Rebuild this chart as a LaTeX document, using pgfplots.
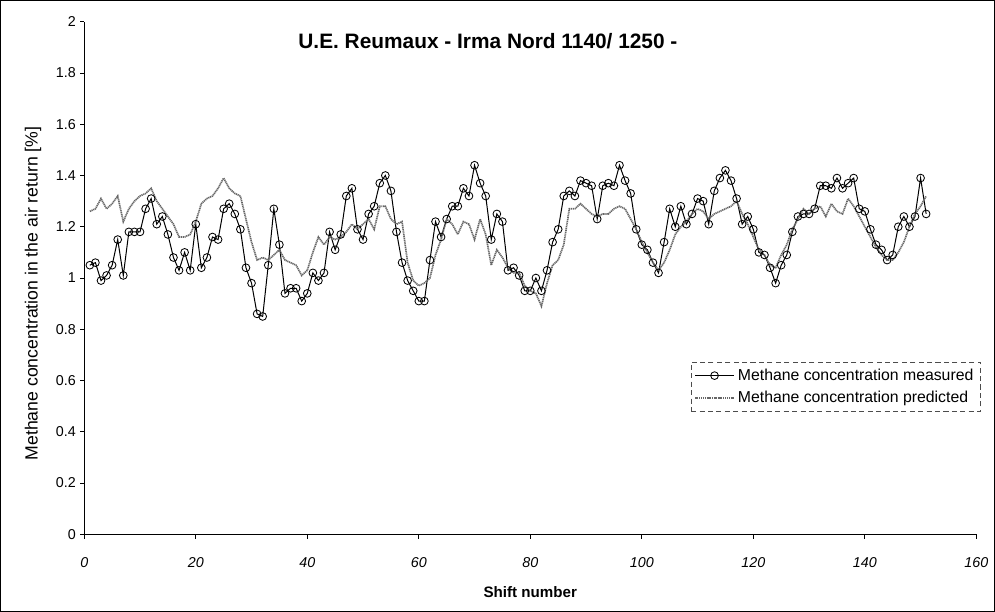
\documentclass[border=0pt]{standalone}
\usepackage{pgfplots}
\pgfplotsset{compat=1.18}
\usepackage{pgfplotstable}
\usepackage{fontspec}
\setmainfont{Liberation Sans}

\pgfplotstableread{
x m p
1 1.05 1.26
2 1.06 1.27
3 0.99 1.31
4 1.01 1.27
5 1.05 1.29
6 1.15 1.32
7 1.01 1.22
8 1.18 1.27
9 1.18 1.30
10 1.18 1.32
11 1.27 1.33
12 1.31 1.35
13 1.21 1.30
14 1.24 1.27
15 1.17 1.24
16 1.08 1.21
17 1.03 1.16
18 1.10 1.16
19 1.03 1.17
20 1.21 1.22
21 1.04 1.29
22 1.08 1.31
23 1.16 1.32
24 1.15 1.35
25 1.27 1.39
26 1.29 1.35
27 1.25 1.33
28 1.19 1.32
29 1.04 1.23
30 0.98 1.14
31 0.86 1.07
32 0.85 1.08
33 1.05 1.07
34 1.27 1.09
35 1.13 1.11
36 0.94 1.07
37 0.96 1.06
38 0.96 1.05
39 0.91 1.01
40 0.94 1.03
41 1.02 1.10
42 0.99 1.16
43 1.02 1.13
44 1.18 1.16
45 1.11 1.15
46 1.17 1.16
47 1.32 1.18
48 1.35 1.21
49 1.19 1.19
50 1.15 1.21
51 1.25 1.23
52 1.28 1.19
53 1.37 1.28
54 1.40 1.28
55 1.34 1.23
56 1.18 1.21
57 1.06 1.22
58 0.99 1.06
59 0.95 0.99
60 0.91 0.97
61 0.91 0.98
62 1.07 1.00
63 1.22 1.09
64 1.16 1.15
65 1.23 1.23
66 1.28 1.21
67 1.28 1.17
68 1.35 1.22
69 1.32 1.21
70 1.44 1.15
71 1.37 1.23
72 1.32 1.17
73 1.15 1.05
74 1.25 1.11
75 1.22 1.08
76 1.03 1.04
77 1.04 1.02
78 1.01 1.02
79 0.95 0.97
80 0.95 0.95
81 1.00 0.94
82 0.95 0.89
83 1.03 0.98
84 1.14 1.05
85 1.19 1.07
86 1.32 1.13
87 1.34 1.27
88 1.32 1.27
89 1.38 1.29
90 1.37 1.27
91 1.36 1.25
92 1.23 1.24
93 1.36 1.25
94 1.37 1.25
95 1.36 1.27
96 1.44 1.28
97 1.38 1.27
98 1.33 1.23
99 1.19 1.19
100 1.13 1.14
101 1.11 1.10
102 1.06 1.06
103 1.02 1.03
104 1.14 1.06
105 1.27 1.11
106 1.20 1.17
107 1.28 1.20
108 1.21 1.22
109 1.25 1.25
110 1.31 1.27
111 1.30 1.26
112 1.21 1.23
113 1.34 1.25
114 1.39 1.26
115 1.42 1.27
116 1.38 1.28
117 1.31 1.30
118 1.21 1.25
119 1.24 1.21
120 1.19 1.16
121 1.10 1.11
122 1.09 1.09
123 1.04 1.05
124 0.98 1.04
125 1.05 1.09
126 1.09 1.13
127 1.18 1.19
128 1.24 1.23
129 1.25 1.27
130 1.25 1.25
131 1.27 1.27
132 1.36 1.28
133 1.36 1.24
134 1.35 1.29
135 1.39 1.26
136 1.35 1.25
137 1.37 1.31
138 1.39 1.28
139 1.27 1.24
140 1.26 1.20
141 1.19 1.16
142 1.13 1.12
143 1.11 1.09
144 1.07 1.07
145 1.09 1.07
146 1.20 1.10
147 1.24 1.14
148 1.20 1.20
149 1.24 1.25
150 1.39 1.28
151 1.25 1.32
}\data

\begin{document}
\begin{tikzpicture}
\begin{axis}[
  scale only axis, width=530.4pt, height=304.8pt,
  xmin=0, xmax=160, ymin=0, ymax=2,
  axis x line*=bottom, axis y line*=left,
  axis line style={line width=0.8pt, -},
  xtick={0,20,40,60,80,100,120,140,160},
  ytick={0,0.2,0.4,0.6,0.8,1,1.2,1.4,1.6,1.8,2},
  tick align=outside, major tick length=2.5pt,
  tick style={black, line width=0.5pt},
  /pgf/number format/assume math mode=true,
  yticklabel style={font=\fontsize{8.5}{10}\selectfont, xshift=1pt},
  xticklabel style={font=\fontsize{8.5}{10}\selectfont\itshape, yshift=-8pt},
  xlabel={\textbf{Shift number}},
  xlabel style={font=\fontsize{9}{10}\selectfont, at={(axis description cs:0.5,-0.1122)}, anchor=center},
  ylabel={Methane concentration in the air return [\%]},
  ylabel style={font=\fontsize{10.5}{12}\selectfont, at={(axis description cs:-0.0575,0.47)}, anchor=center},
  clip=false,
  legend cell align=left,
  legend image code/.code={\draw[mark repeat=2,mark phase=2,#1] plot coordinates {(0cm,0cm) (0.4cm,0cm) (0.8cm,0cm)};},
  legend style={at={(0.68,0.337)}, anchor=north west, font=\fontsize{9.4}{11}\selectfont,
    draw=black!70, densely dashed, line width=0.4pt, inner sep=2pt, row sep=1pt},
]
\addplot[black, line width=0.6pt, mark=o, mark size=2.3pt, mark options={solid, line width=0.5pt}] table[x=x, y=m] {\data};
\addlegendentry{Methane concentration measured}
\addplot[black!60, line width=1pt, dash pattern=on 0.7pt off 0.4pt] table[x=x, y=p] {\data};
\addlegendentry{Methane concentration predicted}
\node[font=\fontsize{12.4}{14}\selectfont\bfseries] at (rel axis cs:0.4525,0.963) {U.E. Reumaux - Irma Nord 1140/ 1250 -};
\draw[line width=0.6pt, solid] (rel axis cs:0,0) ++(-49.8pt,-45.6pt) rectangle ++(591pt,363pt);
\end{axis}
\end{tikzpicture}
\end{document}
